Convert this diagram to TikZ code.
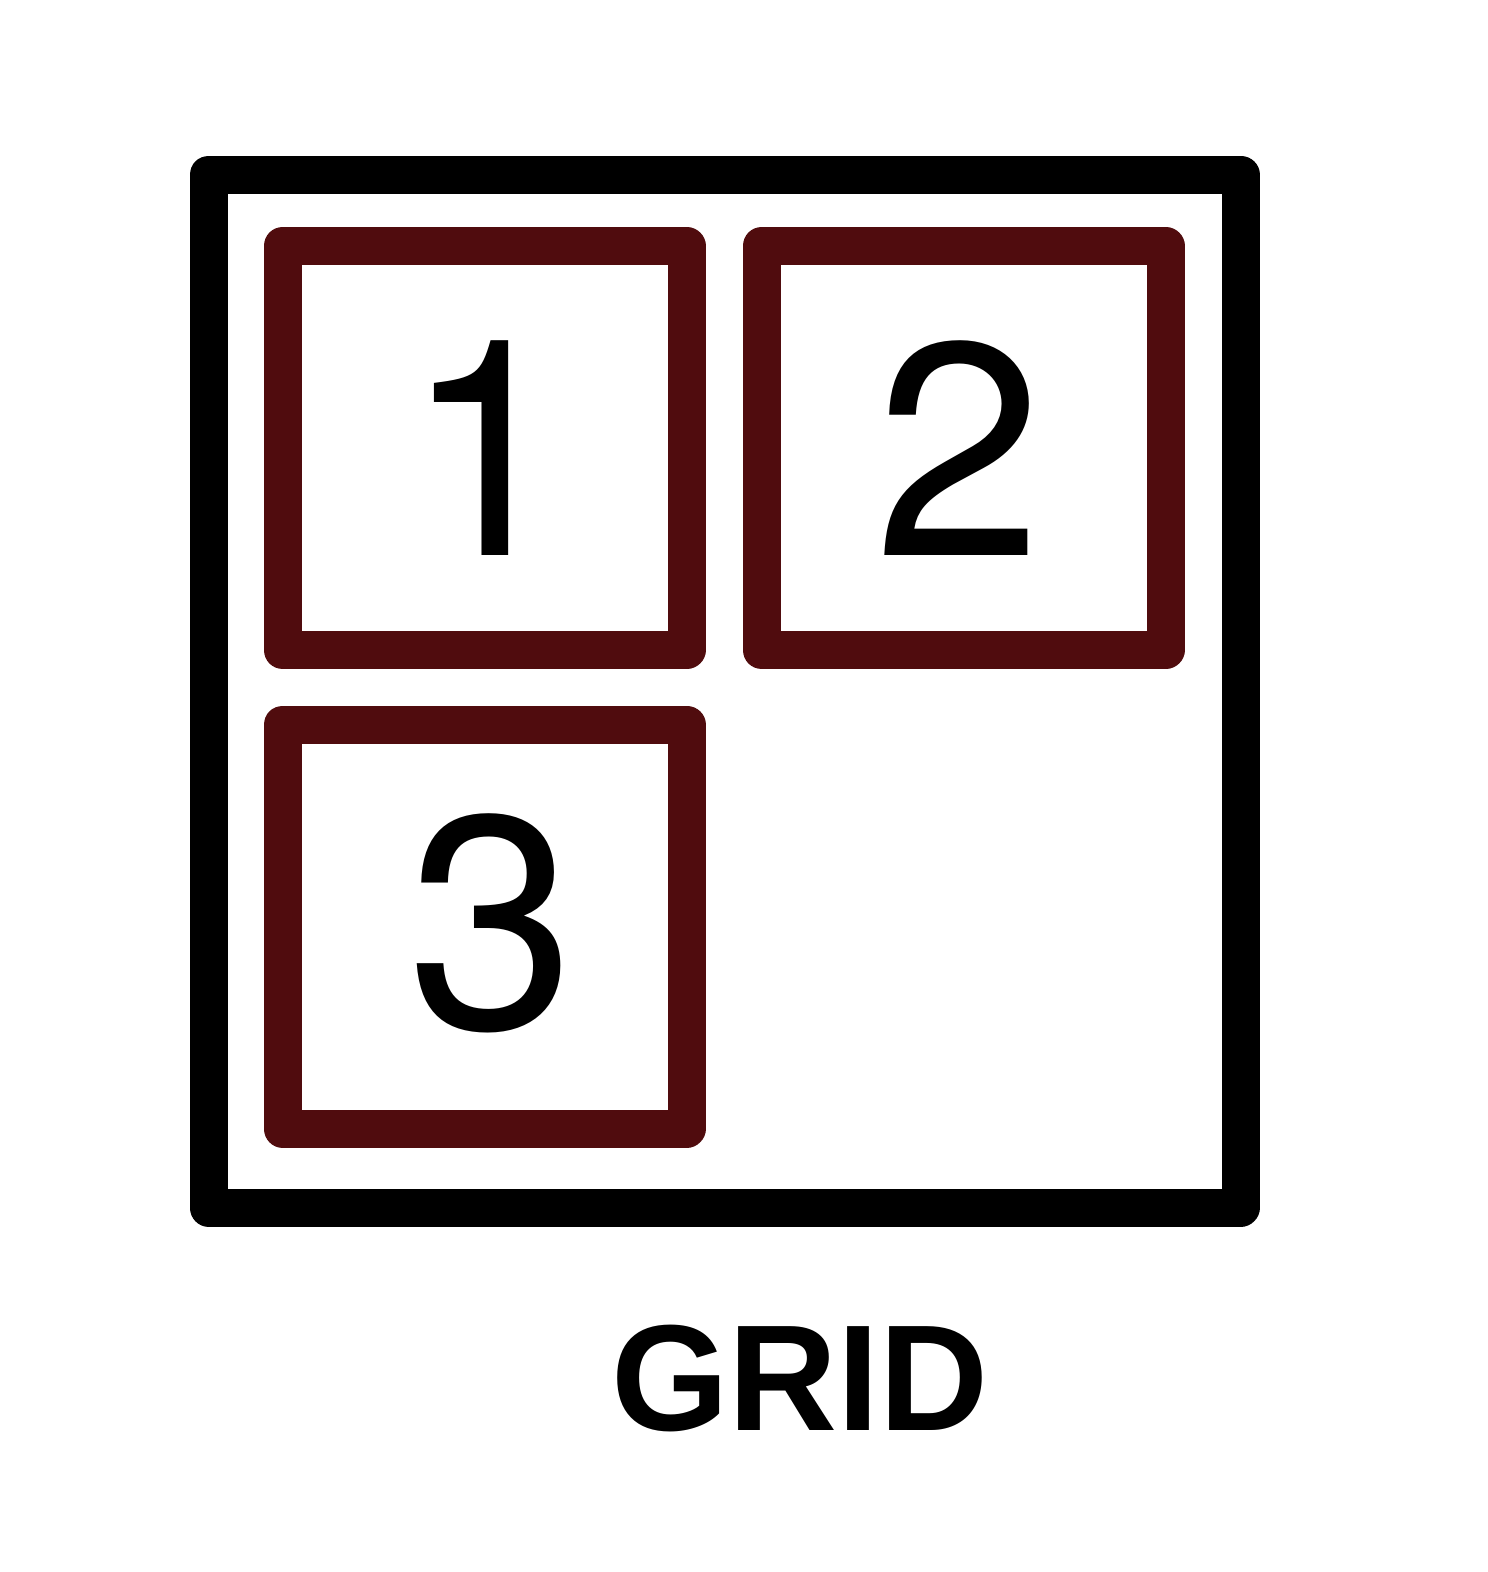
\documentclass[tikz,border=0pt]{standalone}
\usepackage{fontspec}
\setmainfont{Liberation Sans}
\newfontfamily\digitfont{TeX Gyre Heros}
\definecolor{boxred}{HTML}{500C0E}
\begin{document}
\begin{tikzpicture}[x=1pt,y=1pt,
  outerbox/.style={draw=black,line width=38pt,line join=round,rectangle,inner sep=0pt,minimum width=1032pt,minimum height=1033pt},
  cell/.style={draw=boxred,line width=38pt,line join=round,rectangle,inner sep=0pt,minimum width=404pt,minimum height=404pt},
  digit/.style={inner sep=0pt,anchor=base,font=\digitfont\fontsize{303}{303}\selectfont},
  caption/.style={inner sep=0pt,anchor=base,font=\bfseries\fontsize{151}{151}\selectfont}]
\useasboundingbox (0,0) rectangle (1488,-1572);
\node[outerbox] (outer) at (724.5,-691) {};
\node[cell] (c1) at (484.5,-448) {};
\node[cell] (c2) at (963.5,-448) {};
\node[cell] (c3) at (484.5,-926.5) {};
\node[digit] (d1) at (488,-555) {1};
\node[digit] (d2) at (959,-555) {2};
\node[digit] (d3) at (492,-1028) {3};
\node[caption] (lbl) at (800,-1430) {GRID};
\end{tikzpicture}
\end{document}
